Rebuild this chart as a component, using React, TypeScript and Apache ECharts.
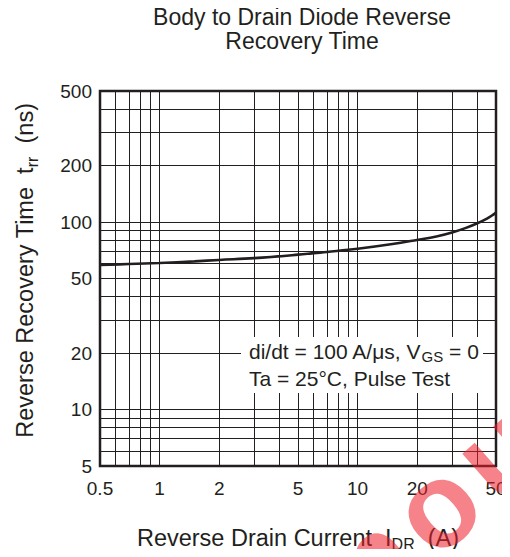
import React, { useEffect, useRef } from "react";
import * as echarts from "echarts";

// Reverse drain current I_DR (A)
const currentValues = [0.5, 0.7, 1, 1.5, 2, 3, 5, 7, 10, 15, 20, 25, 30, 35, 40, 45, 48, 50];
// Reverse recovery time t_rr (ns)
const trrValues = [59, 59.7, 60.5, 61.7, 62.8, 64.2, 67, 69.3, 72, 76.3, 80.3, 83.8, 88, 92.8, 98.2, 104.4, 108.8, 112.3];

const xTickLabels = [0.5, 1, 2, 5, 10, 20, 50];
const yTickLabels = [5, 10, 20, 50, 100, 200, 500];
const xGridValues = [0.6, 0.7, 0.8, 0.9, 1, 2, 3, 4, 5, 6, 7, 8, 9, 10, 20, 30, 40];
const yGridValues = [6, 7, 8, 9, 10, 20, 30, 40, 50, 60, 70, 80, 90, 100, 200, 300, 400];

const titleLines = ["Body to Drain Diode Reverse", "Recovery Time"];
const conditionLines = ["di/dt = 100 A/\u03BCs, V{sub|GS} = 0", "Ta = 25\u00B0C, Pulse Test"];
const watermarkLetters = ["n", "o", "u"];

const INK = "#231f20";
const FONT = "'Liberation Sans', Arial, Helvetica, sans-serif";

export default function App() {
  const ref = useRef<HTMLDivElement>(null);

  useEffect(() => {
    if (!ref.current) return;
    const chart = echarts.init(ref.current, null, { renderer: "svg" });

    const wmAngle = 0.72;
    const wmSpacing = 84;

    const option: any = {
      animation: false,
      backgroundColor: "#ffffff",
      title: {
        text: titleLines.join("\n"),
        left: 297,
        top: 0,
        textAlign: "center",
        textStyle: {
          fontFamily: FONT,
          fontSize: 23,
          lineHeight: 24,
          fontWeight: "normal",
          color: INK,
        },
      },
      grid: {
        left: 100,
        top: 91,
        right: 14,
        bottom: 91,
        show: true,
        borderColor: INK,
        borderWidth: 2.5,
        backgroundColor: "transparent",
      },
      xAxis: {
        type: "log",
        logBase: 10,
        min: 0.5,
        max: 50,
        name: "Reverse Drain Current  I{sub|DR}  (A)",
        nameLocation: "middle",
        nameGap: 57,
        nameTextStyle: {
          fontFamily: FONT,
          fontSize: 23.5,
          lineHeight: 29,
          color: INK,
          rich: {
            sub: { fontFamily: FONT, fontSize: 16, lineHeight: 15, verticalAlign: "bottom", color: INK },
          },
        },
        axisLine: { show: false },
        axisTick: { show: false },
        splitLine: { show: false },
        minorSplitLine: { show: false },
        axisLabel: {
          customValues: xTickLabels,
          fontFamily: FONT,
          fontSize: 19,
          color: INK,
          margin: 13,
          showMinLabel: true,
          showMaxLabel: true,
          formatter: (v: number) => String(v),
        },
      },
      yAxis: {
        type: "log",
        logBase: 10,
        min: 5,
        max: 500,
        name: "Reverse Recovery Time  t{sub|rr}  (ns)",
        nameLocation: "middle",
        nameRotate: 90,
        nameGap: 60,
        nameTextStyle: {
          fontFamily: FONT,
          fontSize: 23.5,
          lineHeight: 30,
          color: INK,
          padding: [0, 0, 0, 16],
          rich: {
            sub: { fontFamily: FONT, fontSize: 16, lineHeight: 16, verticalAlign: "bottom", color: INK },
          },
        },
        axisLine: { show: false },
        axisTick: { show: false },
        splitLine: { show: false },
        minorSplitLine: { show: false },
        axisLabel: {
          customValues: yTickLabels,
          fontFamily: FONT,
          fontSize: 19,
          color: INK,
          margin: 8,
          showMinLabel: true,
          showMaxLabel: true,
          formatter: (v: number) => String(v),
        },
      },
      series: [
        {
          type: "line",
          name: "grid",
          data: [],
          silent: true,
          z: 1,
          markLine: {
            silent: true,
            z: 1,
            symbol: ["none", "none"],
            label: { show: false },
            lineStyle: { color: INK, width: 1, type: "solid" },
            emphasis: { disabled: true },
            animation: false,
            data: [
              ...xGridValues.map((v) => ({ xAxis: v })),
              ...yGridValues.map((v) => ({ yAxis: v })),
            ],
          },
        },
        {
          type: "line",
          name: "trr",
          data: currentValues.map((x, i) => [x, trrValues[i]]),
          smooth: 0.4,
          symbol: "none",
          z: 3,
          lineStyle: { color: INK, width: 2.6 },
        },
      ],
      graphic: [
        {
          type: "rect",
          shape: { x: 241, y: 337, width: 242, height: 56 },
          style: { fill: "#ffffff" },
          z: 10,
          silent: true,
        },
        ...conditionLines.map((t, i) => ({
          type: "text",
          x: 249,
          y: 351.5 + i * 26.5,
          z: 11,
          style: {
            text: t,
            fontFamily: FONT,
            fontSize: 21,
            lineHeight: 25,
            fill: INK,
            align: "left",
            verticalAlign: "middle",
            rich: {
              sub: { fontFamily: FONT, fontSize: 15, lineHeight: 14, verticalAlign: "bottom", fill: INK },
            },
          },
        })),
        {
          type: "group",
          x: 430,
          y: 500,
          rotation: wmAngle,
          z: 20,
          silent: true,
          children: watermarkLetters.map((ch, i) => ({
            type: "text",
            x: (i - 1) * wmSpacing,
            y: 8,
            z: 20,
            style: {
              text: ch,
              font: "bold 120px 'Liberation Sans', Arial, sans-serif",
              fill: "rgba(237, 30, 40, 0.55)",
              align: "center",
              verticalAlign: "middle",
            },
          })),
        },
      ],
    };

    chart.setOption(option);
    return () => chart.dispose();
  }, []);

  return <div ref={ref} style={{ width: 510, height: 557, margin: -8 }} />;
}
